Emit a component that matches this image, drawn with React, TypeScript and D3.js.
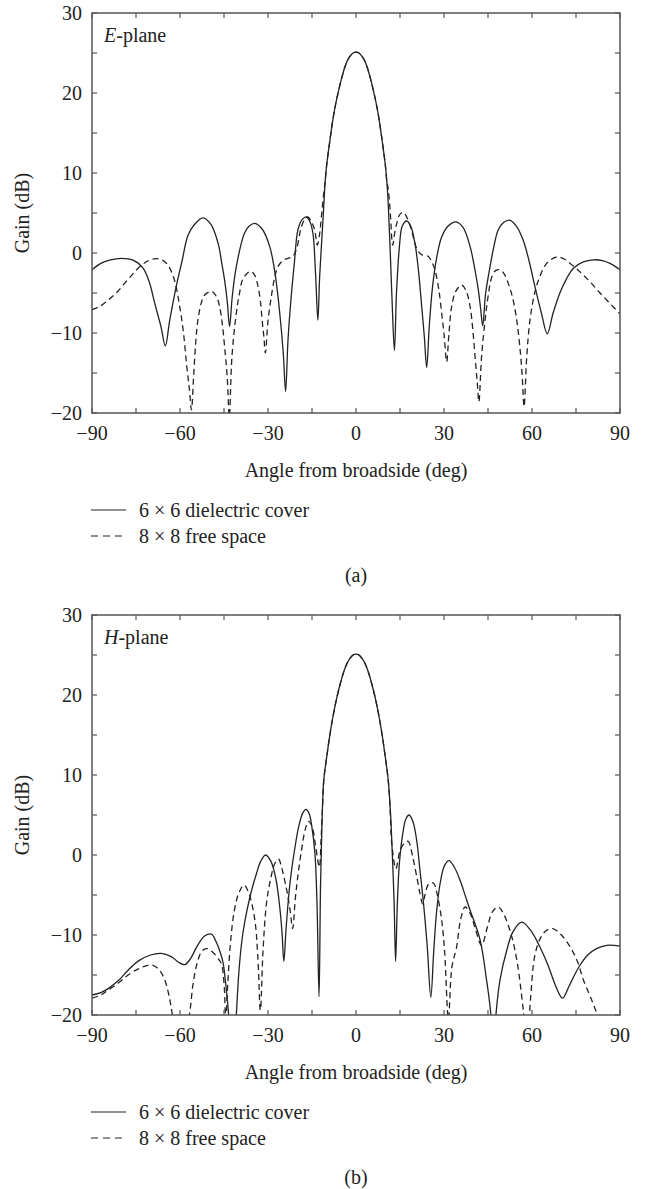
import React from 'react';
import * as d3 from 'd3';

// angle (deg) and gain (dB) pairs
const mainBeamE = [
  [-10.5, 9], [-10, 11], [-9, 13.8], [-8, 16.4], [-7, 18.5], [-6, 20.2], [-5, 21.7], [-4, 23], [-3, 24],
  [-2, 24.6], [-1, 25], [0, 25.1], [1, 25], [2, 24.6], [3, 24], [4, 23], [5, 21.7], [6, 20.2], [7, 18.5],
  [8, 16.4], [9, 13.8], [10, 11], [10.5, 9],
];

const mainBeamH = [
  [-11, 9.3], [-10, 12.2], [-9, 14.8], [-8, 17], [-7, 18.9], [-6, 20.5], [-5, 21.9], [-4, 23.1], [-3, 24],
  [-2, 24.6], [-1, 25], [0, 25.1], [1, 25], [2, 24.6], [3, 24], [4, 23.1], [5, 21.9], [6, 20.5], [7, 18.9],
  [8, 17], [9, 14.8], [10, 12.2], [11, 9.3],
];

const ePlaneCover = [
  [-90, -2.1], [-87, -1.3], [-84, -0.9], [-80, -0.67], [-76, -0.9], [-72.6, -1.9], [-70.5, -3.6], [-68.6, -6.3],
  [-66.5, -9.2], [-65, -11.6], [-63.5, -8.4], [-61.3, -4.2], [-59.3, -1], [-57.3, 2.2], [-55, 3.6], [-52.2, 4.4],
  [-49.5, 3.6], [-47, 1.2], [-45.8, -1.2], [-44.8, -3.4], [-43.9, -6], [-43.1, -9.2], [-42.2, -5.5], [-40.8, -1.7],
  [-38, 2.5], [-36.3, 3.4], [-34.5, 3.7], [-32, 3], [-29.4, 0.8], [-27.5, -2.8], [-26, -7.5], [-24.8, -12.5],
  [-24, -17.3], [-23.2, -11], [-22.1, -5.5], [-21, -1.2], [-19.8, 2.9], [-18.3, 4.2], [-16.9, 4.5], [-15.8, 4],
  [-14.7, 2.5], [-13.8, -2.5], [-13, -8.4], [-12.4, -3], [-11.8, 0.8], [-11.2, 4.5],
  ...mainBeamE,
  [11, 6], [11.6, 0.8], [12.2, -5], [13.1, -12.2], [13.8, -5], [14.8, 0.8], [15.8, 3.4], [17.3, 4.0],
  [18.7, 3.3], [20.1, 1.2], [21.3, -2.2], [22.4, -6.7], [23.3, -10.5], [24.1, -14.3], [25, -9], [26.1, -4.2],
  [27.5, -0.6], [29.2, 2], [31.5, 3.4], [34.1, 3.9], [36.5, 3.2], [38.9, 0.8], [40.5, -2], [41.7, -4.6],
  [42.5, -7], [43.2, -9.1], [44.2, -5], [45.7, -1.7], [47, 0.8], [48.5, 2.9], [50.3, 3.8], [52.3, 4.1],
  [54.6, 3.4], [57, 1.6], [59, -1], [61, -4.2], [63.2, -7.5], [65.2, -10.1], [67.2, -7.5], [69.5, -5],
  [71.8, -3.2], [74.1, -1.9], [77.5, -1.1], [80.9, -0.85], [84, -0.95], [86.6, -1.3], [90, -2.1],
];

const ePlaneFree = [
  [-90, -7.1], [-87, -6.6], [-84.5, -5.9], [-81.5, -4.9], [-78.9, -3.8], [-76.5, -2.8], [-74.3, -1.9], [-71, -1],
  [-68.1, -0.7], [-65.5, -1], [-63.5, -1.9], [-61.8, -3.5], [-60.1, -6.7], [-58.8, -10], [-57.8, -13.8],
  [-56.8, -17], [-56.1, -19.6], [-55.3, -15], [-54.6, -11], [-53.9, -8.4], [-52.8, -6.3], [-51.6, -5.25],
  [-49.1, -4.8], [-47.5, -5.5], [-46.5, -6.7], [-45.6, -8.8], [-44.8, -11.7], [-43.9, -15.5], [-43.2, -20.5],
  [-42.3, -13], [-40.8, -7.5], [-39.7, -5], [-38.5, -3.2], [-36, -2.3], [-34.5, -2.8], [-33.4, -4.2],
  [-32.6, -6], [-32, -8.4], [-31.4, -10.5], [-30.9, -12.5], [-30, -8.5], [-28.9, -5.5], [-27.8, -3.2],
  [-26.6, -1.7], [-24.8, -0.9], [-23.2, -0.67], [-21.5, -0.4], [-20.2, 0.6], [-18.6, 3.3], [-17.3, 4.3],
  [-16.4, 4.5], [-15.2, 3.9], [-14.1, 2.9], [-13.2, 1.0], [-12.4, 2.4], [-11.8, 4.5], [-11.2, 6.8],
  ...mainBeamE,
  [11, 8], [11.7, 5], [12.5, 1.0], [13.2, 2.5], [13.9, 3.7], [14.9, 4.8], [16.1, 5.1], [17.4, 4.4],
  [18.9, 2.9], [20, 1.3], [21.2, 0.2], [22.8, -0.3], [24.6, -0.4], [25.7, -1], [26.9, -2.1], [28.2, -4.5],
  [29.2, -7.5], [30.1, -10.5], [30.9, -13.6], [31.7, -10], [32.6, -6.7], [34, -4.8], [36, -4.0], [37.6, -4.8],
  [38.9, -6.7], [39.8, -9.5], [40.6, -13], [41.3, -16], [41.9, -18.6], [42.8, -13], [44, -8.4], [45, -5.5],
  [46.3, -3], [47.6, -2.2], [49.1, -2.1], [50.5, -2.6], [51.9, -3.8], [53.4, -5.6], [54.8, -8.4], [55.8, -11.5],
  [56.6, -15], [57.3, -19.2], [58.2, -13], [59.3, -8.4], [60.8, -5.2], [62.2, -3.4], [65, -1.3], [68.4, -0.5],
  [70.7, -0.7], [73, -1.3], [75.3, -2], [77.5, -2.75], [80.3, -3.8], [83.2, -5], [86.3, -6.2], [90, -7.6],
];

const hPlaneCover = [
  [-90, -17.5], [-87, -17.2], [-84.5, -16.7], [-81, -15.7], [-77.7, -14.4], [-74, -13.2], [-70, -12.5],
  [-66.4, -12.3], [-63, -12.7], [-60.5, -13.4], [-58.4, -13.7], [-56.5, -13], [-54, -11.3], [-51.5, -10.1],
  [-49.3, -9.9], [-47.5, -11], [-46, -12.5], [-45.3, -13.5], [-44.3, -16.5], [-43.3, -20.5], [-42, -28],
  [-40.8, -20], [-40, -15], [-39, -11], [-38, -8.5], [-36, -5], [-34, -2.4], [-32.5, -0.8], [-30.8, 0],
  [-29, -0.8], [-27.3, -3], [-26, -6.5], [-25.2, -9.8], [-24.6, -13.3], [-23.8, -9], [-22.5, -3.5], [-21, 0.5],
  [-19.5, 3.6], [-18.2, 5.2], [-17.1, 5.7], [-16, 5.2], [-15, 3.4], [-14, 0.2], [-13.3, -6], [-12.6, -17.7],
  [-12.1, -4], [-11.6, 4],
  ...mainBeamH,
  [11.8, 5], [12.5, -1], [13.0, -6], [13.5, -13.3], [14.1, -6], [14.8, -1], [16, 2.8], [17, 4.5], [18.1, 5.0],
  [19.4, 4.2], [20.7, 1.8], [21.8, -1.9], [23, -6], [24.3, -11.5], [25.5, -17.8], [26.5, -12], [27.5, -7],
  [28.7, -3.5], [30.2, -1.3], [31.7, -0.7], [33.5, -1.5], [35.5, -3.2], [37.7, -5.6], [38.9, -6.9],
  [42.3, -10.6], [44.5, -15.6], [46, -20], [46.8, -26], [47.7, -20], [49.1, -15.6], [51.4, -11.9],
  [53.5, -9.6], [56.5, -8.4], [59.5, -9.4], [62.7, -11.5], [65.5, -13.8], [68, -16.3], [70.4, -17.9],
  [72.5, -16.5], [74.5, -15], [76.4, -13.75], [79, -12.5], [82, -11.7], [85.5, -11.3], [88, -11.3], [90, -11.4],
];

const hPlaneFree = [
  [-90, -17.9], [-87, -17.5], [-84.5, -16.9], [-81, -16], [-77.7, -15], [-74, -14.2], [-69.8, -13.75],
  [-67.2, -14.3], [-65.2, -15.6], [-63.8, -17.5], [-62.6, -20], [-60, -26], [-56.8, -20], [-55.5, -16],
  [-54, -13.3], [-52.5, -12], [-51, -11.7], [-49, -12.1], [-47.3, -12.8], [-45.9, -13.6], [-45, -16],
  [-44.4, -20.5], [-43.7, -16], [-42.8, -11], [-41.5, -7], [-40, -4.8], [-38.2, -3.75], [-36.5, -4.8],
  [-34.5, -8.1], [-33.5, -12.5], [-32.6, -19.4], [-31.7, -12], [-30.5, -6], [-29, -2.8], [-27.6, -1],
  [-26.4, -0.5], [-25.4, -1.5], [-24.3, -3.2], [-23.4, -4.8], [-22.5, -6.8], [-21.6, -9.2], [-20.7, -5.5],
  [-19.7, -2.3], [-18.5, 0.8], [-17.3, 3.2], [-16.2, 4.2], [-15, 3.6], [-13.8, 1.2], [-12.5, -1.5],
  [-11.9, 2], [-11.4, 6],
  ...mainBeamH,
  [11.6, 6], [12.2, 1.4], [13.6, -1.7], [15, 0.5], [16.5, 1.5], [17.8, 1.7], [19.2, 0], [20.7, -2.7],
  [21.8, -4.8], [22.7, -6.1], [23.5, -5], [24.8, -3.6], [26.4, -3.5], [27.6, -4.8], [29.2, -8.1], [30.2, -12],
  [31.5, -20.5], [32.7, -14], [34.3, -11.5], [35.7, -8], [37.2, -6.5], [38.8, -7.2], [40.5, -9], [42.8, -11.3],
  [44.8, -9], [46.5, -7.1], [48.5, -6.5], [50.5, -7.5], [53.1, -10.2], [55, -13.5], [56.6, -18], [57.5, -21],
  [58.4, -24], [59.5, -18], [61, -12.5], [63, -10.3], [65, -9.4], [67.1, -9.2], [70, -10], [73, -11.5],
  [75.5, -13.3], [77.5, -15.6], [80, -17.8], [82.1, -19.8], [84, -21.5],
];

const xTicks = [-90, -75, -60, -45, -30, -15, 0, 15, 30, 45, 60, 75, 90];
const xLabels = [-90, -60, -30, 0, 30, 60, 90];
const yTicks = [-20, -15, -10, -5, 0, 5, 10, 15, 20, 25, 30];
const yLabels = [-20, -10, 0, 10, 20, 30];

const FONT = '"Liberation Serif", "DejaVu Serif", serif';
const INK = '#222';
const FRAME = '#555';

const left = 92, right = 620, plotH = 400;
const fmt = (v) => (v < 0 ? '\u2212' + Math.abs(v) : String(v));

function Panel({ top, plane, cover, free, caption, id }) {
  const x = d3.scaleLinear().domain([-90, 90]).range([left, right]);
  const y = d3.scaleLinear().domain([-20, 30]).range([top + plotH, top]);
  const line = d3.line().x(d => x(d[0])).y(d => y(d[1])).curve(d3.curveCatmullRom.alpha(0.5));
  const bottom = top + plotH;
  const tl = 5;

  return (
    <g fontFamily={FONT} fill={INK}>
      <clipPath id={'clip' + id}>
        <rect x={left} y={top} width={right - left} height={plotH} />
      </clipPath>
      <g clipPath={`url(#clip${id})`} fill="none" stroke={INK} strokeWidth={1.3}>
        <path d={line(free)} strokeDasharray="6,4" />
        <path d={line(cover)} />
      </g>

      <g stroke={FRAME} strokeWidth={1.2}>
        {xTicks.map(t => (
          <g key={'x' + t}>
            <line x1={x(t)} x2={x(t)} y1={bottom} y2={bottom - tl} />
            <line x1={x(t)} x2={x(t)} y1={top} y2={top + tl} />
          </g>
        ))}
        {yTicks.map(t => (
          <g key={'y' + t}>
            <line x1={left} x2={left + tl} y1={y(t)} y2={y(t)} />
            <line x1={right} x2={right - tl} y1={y(t)} y2={y(t)} />
          </g>
        ))}
        <rect x={left} y={top} width={right - left} height={plotH} fill="none" strokeWidth={1.5} />
      </g>

      <g fontSize={20}>
        {xLabels.map(t => (
          <text key={'xl' + t} x={x(t)} y={bottom + 20} dy="0.35em" textAnchor="middle">{fmt(t)}</text>
        ))}
        {yLabels.map(t => (
          <text key={'yl' + t} x={82} y={y(t)} dy="0.35em" textAnchor="end">{fmt(t)}</text>
        ))}
        <text x={(left + right) / 2} y={bottom + 57} dy="0.35em" textAnchor="middle">Angle from broadside (deg)</text>
        <text transform={`translate(22,${top + plotH / 2}) rotate(-90)`} dy="0.35em" textAnchor="middle">Gain (dB)</text>
        <text x={104} y={top + 22} dy="0.35em">
          <tspan fontStyle="italic">{plane}</tspan>-plane
        </text>

        <line x1={91} x2={126} y1={bottom + 97} y2={bottom + 97} stroke={INK} strokeWidth={1.2} />
        <text x={139} y={bottom + 97} dy="0.35em">6 × 6 dielectric cover</text>
        <line x1={91} x2={126} y1={bottom + 123} y2={bottom + 123} stroke={INK} strokeWidth={1.2} strokeDasharray="7,5" />
        <text x={139} y={bottom + 123} dy="0.35em">8 × 8 free space</text>

        <text x={(left + right) / 2} y={bottom + 162} dy="0.35em" textAnchor="middle">{caption}</text>
      </g>
    </g>
  );
}

export default function App() {
  return (
    <svg width={646} height={1189} style={{ position: 'absolute', left: 0, top: 0, background: '#fff' }}>
      <rect width={646} height={1189} fill="#fff" />
      <Panel id="a" top={13} plane="E" cover={ePlaneCover} free={ePlaneFree} caption="(a)" />
      <Panel id="b" top={615} plane="H" cover={hPlaneCover} free={hPlaneFree} caption="(b)" />
    </svg>
  );
}
